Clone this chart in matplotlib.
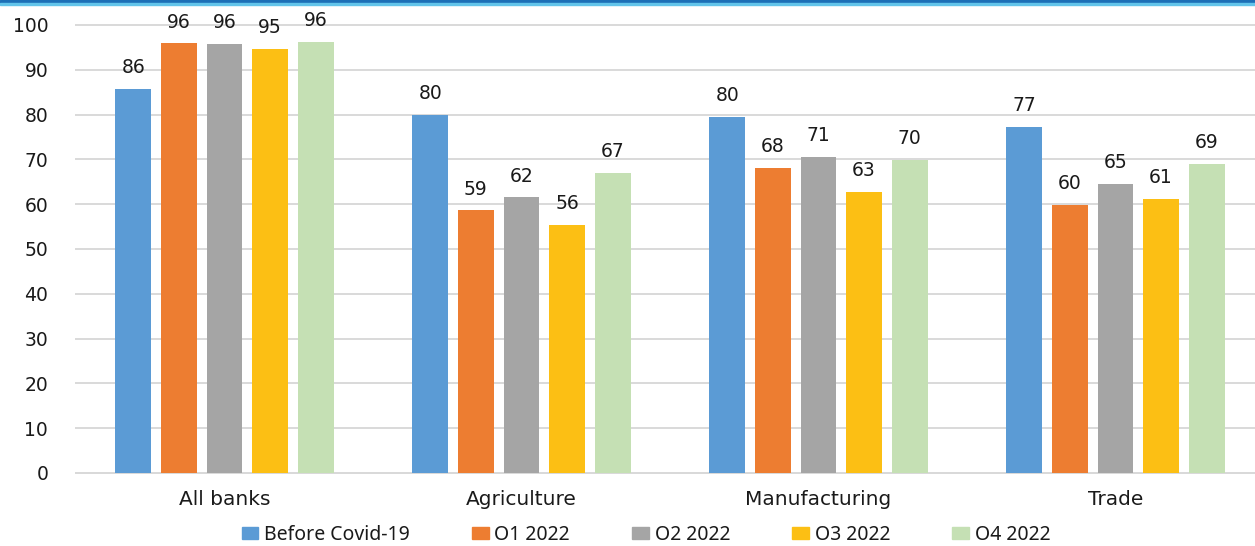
import matplotlib
matplotlib.use("Agg")
import matplotlib.pyplot as plt
from matplotlib.patches import Rectangle
import numpy as np

categories = ["All banks", "Agriculture", "Manufacturing", "Trade"]
series_names = ["Before Covid-19", "O1 2022", "O2 2022", "O3 2022", "O4 2022"]
before_covid = [85.7, 79.9, 79.5, 77.2]
q1_2022 = [95.9, 58.6, 68.1, 59.8]
q2_2022 = [95.7, 61.5, 70.5, 64.5]
q3_2022 = [94.6, 55.4, 62.7, 61.2]
q4_2022 = [96.3, 67.0, 69.9, 69.0]
labels_before = ["86", "80", "80", "77"]
labels_q1 = ["96", "59", "68", "60"]
labels_q2 = ["96", "62", "71", "65"]
labels_q3 = ["95", "56", "63", "61"]
labels_q4 = ["96", "67", "70", "69"]
yticks = [0, 10, 20, 30, 40, 50, 60, 70, 80, 90, 100]

series = [before_covid, q1_2022, q2_2022, q3_2022, q4_2022]
series_labels = [labels_before, labels_q1, labels_q2, labels_q3, labels_q4]
colors = ["#5b9bd5", "#ed7d31", "#a5a5a5", "#fcbf14", "#c5e0b4"]

W, H = 1255, 546
fig = plt.figure(figsize=(W / 100, H / 100), dpi=100)

# top border bands
fig.patches.append(Rectangle((0, 1 - 3 / H), 1, 3 / H, transform=fig.transFigure,
                             color="#1c6fb6", zorder=10))
fig.patches.append(Rectangle((0, 1 - 5 / H), 1, 2 / H, transform=fig.transFigure,
                             color="#62c4ea", zorder=10))

left_px, right_px = 76, 1264
top_px, bottom_px = 25, 473
ax = fig.add_axes([left_px / W, 1 - bottom_px / H, (right_px - left_px) / W,
                   (bottom_px - top_px) / H])

x = np.arange(len(categories))
bw = 0.121
pitch = 0.1535
for i, (vals, labs, c) in enumerate(zip(series, series_labels, colors)):
    pos = x + (i - 2) * pitch
    bars = ax.bar(pos, vals, width=bw, color=c, label=series_names[i], zorder=3)
    for b, l in zip(bars, labs):
        ax.annotate(l, (b.get_x() + b.get_width() / 2, b.get_height()),
                    xytext=(0, 8.5), textcoords="offset points", ha="center",
                    va="bottom", fontsize=13.5, color="#1a1a1a",
                    family="DejaVu Sans", annotation_clip=False)

ax.set_xlim(-0.5, 3.5)
ax.set_ylim(0, 100)
ax.set_yticks(yticks)
ax.set_xticks(x)
ax.set_xticklabels(categories)
ax.yaxis.grid(True, color="#d9d9d9", linewidth=1.4, zorder=0)
for gl in ax.get_ygridlines():
    gl.set_clip_on(False)
ax.set_axisbelow(True)
for s in ["top", "right", "left"]:
    ax.spines[s].set_visible(False)
ax.spines["bottom"].set_color("#d9d9d9")
ax.spines["bottom"].set_linewidth(1.4)
ax.tick_params(axis="y", length=0, pad=20, labelsize=13.5, labelcolor="#1a1a1a")
ax.tick_params(axis="x", length=0, pad=12, labelsize=14.5, labelcolor="#1a1a1a")
ax.set_facecolor("white")

handles = [Rectangle((0, 0), 1, 1, color=c) for c in colors]
leg = fig.legend(handles, series_names, loc="center", bbox_to_anchor=(646 / W, 1 - 535 / H),
                 ncol=5, frameon=False, handlelength=0.85, handleheight=0.6,
                 handletextpad=0.3, columnspacing=3.2, borderpad=0.1,
                 prop={"family": "Noto Sans", "size": 14})
for t in leg.get_texts():
    t.set_color("#1a1a1a")

fig.savefig("out.png", dpi=100, facecolor="white")
